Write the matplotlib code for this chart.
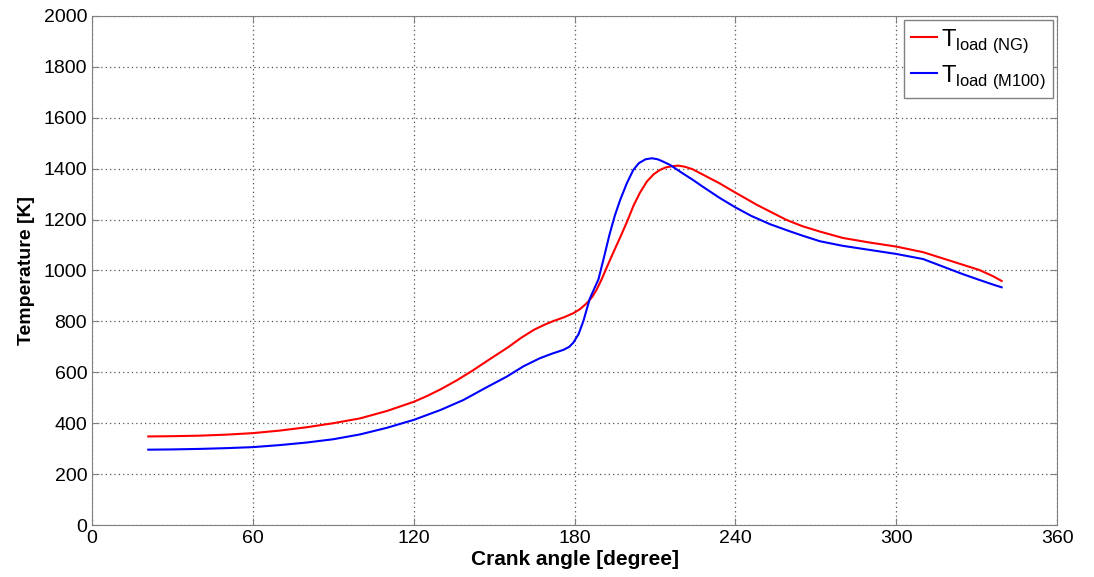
import matplotlib
matplotlib.use("Agg")
import matplotlib.pyplot as plt

# data
angle_ng = [21, 30, 40, 50, 60, 70, 80, 90, 100, 110, 120, 125, 130, 136, 142, 148, 155, 160, 165, 169,
            172, 176, 179.5, 182, 184.5, 186.5, 188.2, 190, 192, 194, 197, 199.5, 202, 204.4, 207,
            209.5, 211.8, 214, 216.5, 218.7, 221, 224, 228, 234, 240, 248, 259, 265, 271.5, 280,
            290, 300, 310, 319, 325, 331, 336, 339.3]
temp_ng = [348, 349, 351, 355, 361, 371, 384, 400, 419, 448, 484, 507, 533, 568, 607, 649, 697, 735, 768, 788,
           801, 816, 832, 848, 871, 895, 924, 963, 1012, 1060, 1130, 1190, 1255, 1306, 1350,
           1378, 1395, 1405, 1410, 1412, 1408, 1398, 1376, 1343, 1306, 1258, 1199, 1174, 1153, 1128,
           1110, 1094, 1072, 1042, 1022, 1002, 978, 959]

angle_m100 = [21, 30, 40, 50, 60, 70, 80, 90, 100, 110, 120, 130, 138.5, 147, 154.7, 161, 167, 171.5,
              175.8, 178, 179.5, 181.5, 183.3, 185.7, 188.9, 191, 193, 195, 197, 199.5, 201.9, 204,
              206.5, 208.8, 211, 213, 215.6, 220, 224, 228, 234, 240, 246, 252.9, 260, 265, 271.5, 280,
              290, 300, 310, 319, 325, 331, 336, 339.3]
temp_m100 = [296, 297, 299, 302, 306, 314, 324, 337, 356, 382, 413, 452, 491, 540, 583, 624, 655, 673,
             688, 700, 716, 750, 802, 890, 965, 1053, 1140, 1215, 1277, 1343, 1395, 1422,
             1437, 1441, 1437, 1428, 1415, 1384, 1357, 1328, 1286, 1248, 1214, 1182, 1155, 1137, 1115, 1097,
             1081, 1065, 1045, 1009, 985, 963, 945, 934]

x_ticks = [0, 60, 120, 180, 240, 300, 360]
y_ticks = list(range(0, 2001, 200))

plt.rcParams['font.family'] = ['Liberation Sans', 'DejaVu Sans']
plt.rcParams['mathtext.fontset'] = 'custom'
plt.rcParams['mathtext.rm'] = 'Liberation Sans'

fig = plt.figure(figsize=(10.94, 5.77), dpi=100)
ax = fig.add_axes([0.0841, 0.0901, 0.8822, 0.8822])

ax.plot(angle_ng, temp_ng, color='#ff0000', lw=1.5, label=r'T$_{\mathregular{load\ (NG)}}$')
ax.plot(angle_m100, temp_m100, color='#0000ff', lw=1.5, label=r'T$_{\mathregular{load\ (M100)}}$')

ax.set_xlim(0, 360)
ax.set_ylim(0, 2000)
ax.set_xticks(x_ticks)
ax.set_yticks(y_ticks)
ax.tick_params(direction='in', top=True, right=True, length=5, color='#808080', labelsize=14)
ax.grid(True, linestyle=(0, (1, 2.5)), color='#555555', lw=0.9)
for s in ax.spines.values():
    s.set_color('#808080')

ax.set_xlabel('Crank angle [degree]', fontsize=15, fontweight='bold', labelpad=2)
ax.set_ylabel('Temperature [K]', fontsize=14, fontweight='bold', labelpad=6)

leg = ax.legend(loc='upper right', fontsize=17, handlelength=1.1, handletextpad=0.2,
                borderpad=0.3, labelspacing=0.35, fancybox=False, framealpha=1,
                borderaxespad=0, bbox_to_anchor=(0.996, 0.992))
leg.get_frame().set_edgecolor('#808080')

fig.savefig('out.png', dpi=100)
